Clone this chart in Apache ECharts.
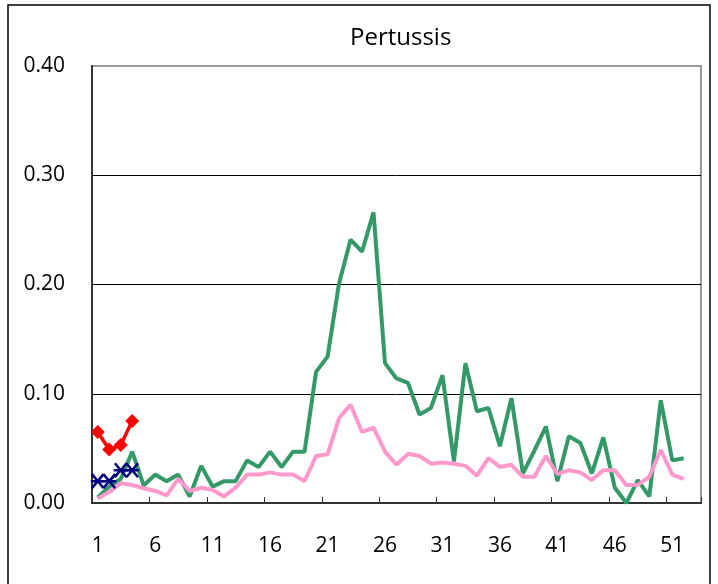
<!DOCTYPE html>
<html>
<head>
<meta charset="utf-8">
<script src="https://cdn.jsdelivr.net/npm/echarts@6/dist/echarts.min.js"></script>
<style>html,body{margin:0;padding:0;background:#fff}#c{width:718px;height:584px}</style>
</head>
<body>
<div id="c"></div>
<script>
// Week categories (1..53)
var weeks = [];
for (var i = 1; i <= 53; i++) weeks.push(String(i));

// Y tick values
var yTicks = [0, 0.1, 0.2, 0.3, 0.4];

// Green series (weekly rate, previous season)
var greenRate = [0.005,0.015,0.022,0.047,0.016,0.026,0.020,0.026,0.006,0.034,
  0.015,0.020,0.020,0.039,0.033,0.047,0.033,0.047,0.047,0.120,
  0.134,0.201,0.241,0.230,0.266,0.128,0.114,0.110,0.081,0.087,
  0.117,0.038,0.128,0.084,0.087,0.052,0.096,0.027,0.048,0.070,
  0.020,0.061,0.055,0.027,0.060,0.014,0.000,0.021,0.006,0.094,
  0.039,0.041];

// Pink series (average)
var pinkRate = [0.004,0.010,0.018,0.0165,0.0135,0.011,0.007,0.022,0.011,0.014,
  0.012,0.006,0.014,0.026,0.026,0.028,0.026,0.026,0.020,0.043,
  0.0445,0.0775,0.090,0.065,0.069,0.047,0.035,0.045,0.043,0.036,
  0.037,0.036,0.034,0.025,0.041,0.033,0.035,0.024,0.024,0.043,
  0.0265,0.030,0.028,0.021,0.030,0.030,0.0165,0.0165,0.024,0.0485,
  0.026,0.022];

// Blue series (asterisks)
var blueRate = [0.020,0.020,0.030,0.030];

// Red series (diamonds, current season)
var redRate = [0.065,0.049,0.053,0.075];

var FONT = 'Open Sans';
var chart = echarts.init(document.getElementById('c'));
chart.setOption({
  animation: false,
  backgroundColor: '#fff',
  title: {
    text: 'Pertussis',
    left: 345, top: 21,
    textStyle: {fontFamily: FONT, fontSize: 24, fontWeight: 'normal', color: '#000'}
  },
  graphic: [{
    type: 'rect', silent: true, z: 100,
    shape: {x: 8, y: 5, width: 702, height: 600},
    style: {fill: 'none', stroke: '#000', lineWidth: 1.5}
  }],
  grid: {left: 92, right: 17, top: 66, bottom: 81, show: true, borderColor: '#999', borderWidth: 2},
  xAxis: {
    type: 'category',
    data: weeks,
    boundaryGap: true,
    axisLine: {lineStyle: {color: '#333', width: 2}},
    axisTick: {show: true, inside: true, length: 6, interval: 4, alignWithLabel: false, lineStyle: {color: '#333', width: 1}},
    axisLabel: {interval: 4, margin: 33, fontFamily: FONT, fontSize: 21, color: '#000'},
    splitLine: {show: false}
  },
  yAxis: {
    type: 'value',
    min: yTicks[0], max: yTicks[yTicks.length - 1], interval: 0.1,
    axisLine: {show: true, lineStyle: {color: '#333', width: 2}},
    axisTick: {show: false},
    axisLabel: {margin: 27, fontFamily: FONT, fontSize: 21, color: '#000', formatter: function (v) { return v.toFixed(2); }},
    splitLine: {show: true, lineStyle: {color: ['#333', '#000', '#000', '#000', '#999'], width: 1}}
  },
  series: [
    {
      name: 'Green', type: 'line', data: greenRate, showSymbol: false, symbol: 'none',
      lineStyle: {color: '#339966', width: 4}, itemStyle: {color: '#339966'}, z: 2
    },
    {
      name: 'Pink', type: 'line', data: pinkRate, showSymbol: false, symbol: 'none',
      lineStyle: {color: '#FF99CC', width: 4}, itemStyle: {color: '#FF99CC'}, z: 3
    },
    {
      name: 'Blue', type: 'line', data: blueRate, showAllSymbol: true,
      symbol: 'path://M-5,-5L5,5M-5,5L5,-5M-6,0L6,0', symbolSize: 14,
      lineStyle: {color: '#000080', width: 2},
      itemStyle: {color: '#000080', borderColor: '#000080', borderWidth: 2.5}, z: 4
    },
    {
      name: 'Red', type: 'line', data: redRate, showAllSymbol: true,
      symbol: 'diamond', symbolSize: 14,
      lineStyle: {color: '#FF0000', width: 3.5},
      itemStyle: {color: '#FF0000'}, z: 5
    }
  ]
});
</script>
</body>
</html>
